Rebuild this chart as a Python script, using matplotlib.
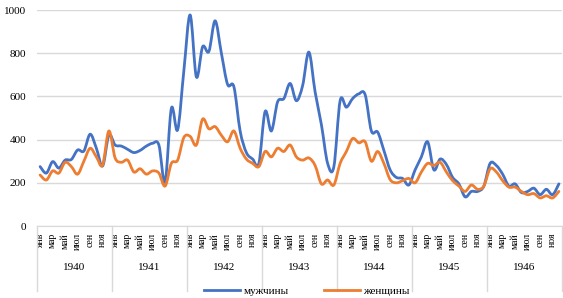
import matplotlib.pyplot as plt
import numpy as np
from matplotlib.path import Path
from matplotlib.patches import PathPatch
from matplotlib.lines import Line2D
from matplotlib.transforms import blended_transform_factory

plt.rcParams['font.family'] = ['Liberation Serif', 'DejaVu Serif']

years = ['1940', '1941', '1942', '1943', '1944', '1945', '1946']
month_labels = ['янв', 'мар', 'май', 'июл', 'сен', 'ноя']

# monthly values, Jan..Dec per year
men = [
    275, 245, 298, 268, 305, 308, 352, 347, 425, 360, 278, 420,   # 1940
    375, 370, 355, 340, 350, 370, 383, 375, 205, 545, 445, 720,   # 1941
    977, 690, 830, 808, 950, 800, 655, 645, 440, 340, 310, 290,   # 1942
    530, 440, 575, 590, 660, 580, 650, 805, 620, 470, 290, 275,   # 1943
    580, 550, 590, 612, 608, 440, 435, 350, 260, 225, 220, 190,   # 1944
    260, 320, 390, 260, 310, 285, 225, 195, 135, 160, 160, 185,   # 1945
    290, 280, 240, 185, 195, 155, 160, 175, 145, 170, 145, 195,   # 1946
]
women = [
    236, 213, 255, 245, 295, 275, 240, 300, 360, 320, 282, 440,   # 1940
    315, 295, 305, 250, 265, 240, 255, 245, 185, 290, 305, 410,   # 1941
    415, 375, 495, 450, 460, 420, 390, 440, 360, 310, 290, 275,   # 1942
    345, 320, 360, 345, 375, 320, 305, 315, 280, 195, 213, 190,   # 1943
    290, 345, 405, 385, 390, 300, 345, 290, 215, 200, 210, 220,   # 1944
    200, 250, 290, 280, 295, 250, 210, 185, 160, 190, 170, 185,   # 1945
    265, 250, 210, 180, 180, 160, 145, 150, 130, 140, 130, 160,   # 1946
]

blue = '#4472C4'
orange = '#ED7D31'


def smooth_path(x, y):
    # cubic bezier through every point (Excel-like smoothed line)
    pts = np.column_stack([x, y]).astype(float)
    n = len(pts)
    verts = [pts[0]]
    codes = [Path.MOVETO]
    for i in range(n - 1):
        p0 = pts[max(i - 1, 0)]
        p1 = pts[i]
        p2 = pts[i + 1]
        p3 = pts[min(i + 2, n - 1)]
        c1 = p1 + (p2 - p0) / 6.0
        c2 = p2 - (p3 - p1) / 6.0
        verts += [c1, c2, p2]
        codes += [Path.CURVE4] * 3
    return Path(verts, codes)


fig = plt.figure(figsize=(5.63, 2.98), dpi=100)
ax = fig.add_axes([37 / 563, (298 - 226) / 298, 525 / 563, 216 / 298])

x = np.arange(len(men))
for vals, col in [(men, blue), (women, orange)]:
    ax.add_patch(PathPatch(smooth_path(x, vals), facecolor='none',
                           edgecolor=col, lw=2.0, capstyle='round',
                           joinstyle='round', zorder=3))

ax.set_xlim(-0.5, len(men) - 0.5)
ax.set_ylim(0, 1000)
ax.set_yticks(np.arange(0, 1001, 200))
ax.yaxis.grid(True, color='#d9d9d9', lw=1)
ax.set_axisbelow(True)
for s in ['top', 'right', 'left']:
    ax.spines[s].set_visible(False)
ax.spines['bottom'].set_color('#d9d9d9')
ax.tick_params(axis='y', length=0, labelsize=8, pad=8)

ticks = np.arange(0, len(men), 2)
ax.set_xticks(ticks)
ax.set_xticklabels(month_labels * len(years), rotation=90, fontsize=7)
ax.tick_params(axis='x', length=0, pad=5)

trans = blended_transform_factory(ax.transData, ax.transAxes)
for k, yr in enumerate(years):
    ax.text(12 * k + 5.5, -0.19, yr, transform=trans, ha='center',
            va='center', fontsize=8)
for k in range(len(years) + 1):
    ax.add_line(Line2D([12 * k - 0.5, 12 * k - 0.5], [0, -0.30],
                       transform=trans, color='#d9d9d9', lw=1,
                       clip_on=False))

handles = [Line2D([], [], color=blue, lw=2.0),
           Line2D([], [], color=orange, lw=2.0)]
fig.legend(handles, ['мужчины', 'женщины'], loc='center',
           bbox_to_anchor=(0.545, 0.022), ncol=2, frameon=False,
           fontsize=8, handlelength=3.2, columnspacing=3.2,
           handletextpad=0.3)

fig.savefig('out.png', dpi=100)
